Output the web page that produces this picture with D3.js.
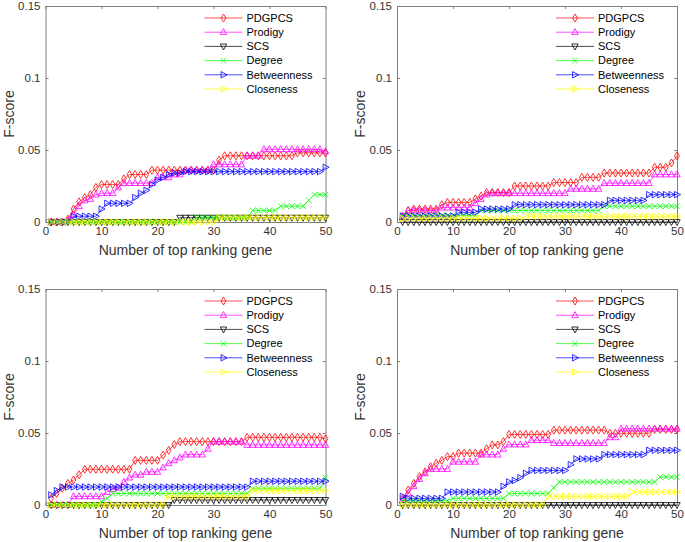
<!DOCTYPE html>
<html>
<head>
<meta charset="utf-8">
<script src="https://cdn.jsdelivr.net/npm/d3@7"></script>
<style>
  html, body { margin: 0; padding: 0; background: #fff; }
  svg { display: block; font-family: "Liberation Sans", Arial, Helvetica, sans-serif; }
</style>
</head>
<body>
<svg id="chart" width="685" height="542"></svg>
<script>
// ---------- data ----------
const xValues = d3.range(1, 51);
const seriesNames = ["PDGPCS", "Prodigy", "SCS", "Degree", "Betweenness", "Closeness"];
const xTickValues = [0, 10, 20, 30, 40, 50];
const yTickValues = [0, 0.05, 0.1, 0.15];
const yTickLabels = ["0", "0.05", "0.1", "0.15"];
const xTitle = "Number of top ranking gene";
const yTitle = "F-score";

// Panel A (top-left)
const pdgpcsA = [0,0,0,0.002,0.009,0.014,0.017,0.019,0.024,0.026,0.026,0.026,0.026,0.030,0.033,0.033,0.033,0.033,0.036,0.036,0.036,0.036,0.036,0.036,0.036,0.036,0.036,0.036,0.036,0.036,0.043,0.046,0.046,0.046,0.046,0.046,0.046,0.046,0.046,0.046,0.046,0.046,0.046,0.046,0.048,0.048,0.048,0.048,0.048,0.048];
const prodigyA = [0,0,0,0.001,0.005,0.011,0.015,0.016,0.019,0.020,0.020,0.020,0.024,0.027,0.027,0.027,0.027,0.027,0.027,0.031,0.031,0.031,0.033,0.033,0.036,0.036,0.036,0.036,0.036,0.040,0.040,0.040,0.040,0.040,0.040,0.046,0.046,0.046,0.0505,0.0505,0.0505,0.0505,0.0505,0.0505,0.0505,0.0505,0.0505,0.0505,0.0505,0.049];
const scsA = [0,0,0,0,0,0,0,0,0,0,0,0,0,0,0,0,0,0,0,0,0,0,0,0.003,0.003,0.003,0.003,0.003,0.003,0.003,0.003,0.003,0.003,0.003,0.003,0.003,0.003,0.003,0.003,0.003,0.003,0.003,0.003,0.003,0.003,0.003,0.003,0.003,0.003,0.003];
const degreeA = [0,0,0,0,0,0,0,0,0,0,0,0,0,0,0,0,0,0,0,0,0,0,0,0,0,0,0.003,0.003,0.003,0.003,0.003,0.003,0.003,0.003,0.003,0.003,0.008,0.008,0.008,0.008,0.008,0.011,0.011,0.011,0.011,0.011,0.015,0.019,0.019,0.019];
const betweenA = [0,0,0,0,0.004,0.004,0.004,0.004,0.004,0.009,0.013,0.013,0.013,0.013,0.013,0.017,0.020,0.022,0.026,0.029,0.031,0.033,0.034,0.034,0.035,0.035,0.035,0.035,0.035,0.035,0.035,0.035,0.035,0.035,0.035,0.035,0.035,0.035,0.035,0.035,0.035,0.035,0.035,0.035,0.035,0.035,0.035,0.035,0.035,0.038];
const closeA = [0,0,0,0,0,0,0,0,0,0,0,0,0,0,0,0,0,0,0,0,0,0,0,0,0,0,0,0,0,0,0.003,0.003,0.003,0.003,0.003,0.003,0.003,0.003,0.003,0.003,0.003,0.003,0.003,0.003,0.003,0.003,0.003,0.003,0.003,0.003];

// Panel B (top-right)
const pdgpcsB = [0.004,0.008,0.009,0.009,0.009,0.009,0.009,0.012,0.0136,0.0136,0.0136,0.0136,0.0136,0.016,0.018,0.0205,0.0205,0.0205,0.0205,0.0205,0.025,0.025,0.025,0.025,0.025,0.025,0.025,0.0274,0.0274,0.0274,0.0274,0.0274,0.031,0.031,0.031,0.031,0.034,0.034,0.034,0.034,0.034,0.034,0.034,0.034,0.034,0.038,0.038,0.038,0.041,0.046];
const prodigyB = [0.004,0.008,0.008,0.008,0.008,0.008,0.008,0.010,0.010,0.010,0.010,0.010,0.010,0.013,0.016,0.019,0.020,0.020,0.020,0.020,0.020,0.020,0.020,0.020,0.020,0.020,0.020,0.020,0.020,0.020,0.023,0.023,0.023,0.023,0.023,0.023,0.027,0.027,0.027,0.027,0.027,0.027,0.027,0.027,0.027,0.033,0.033,0.033,0.033,0.033];
const scsB = [0,0,0,0,0,0,0,0,0,0,0,0,0,0,0,0,0,0,0,0,0,0,0,0,0,0,0,0,0,0,0,0,0,0,0,0,0,0,0,0,0,0,0,0,0,0,0,0,0,0];
const degreeB = [0.0045,0.0045,0.0045,0.0045,0.0045,0.0045,0.0045,0.0045,0.0045,0.0045,0.0045,0.0045,0.0045,0.0045,0.008,0.008,0.008,0.008,0.008,0.008,0.008,0.008,0.008,0.008,0.008,0.008,0.008,0.008,0.008,0.008,0.008,0.008,0.008,0.008,0.008,0.008,0.011,0.011,0.011,0.011,0.011,0.011,0.011,0.011,0.011,0.011,0.011,0.011,0.011,0.011];
const betweenB = [0.004,0.004,0.004,0.004,0.004,0.004,0.004,0.004,0.004,0.004,0.0067,0.0067,0.0067,0.0067,0.009,0.009,0.009,0.009,0.009,0.009,0.012,0.012,0.012,0.012,0.012,0.012,0.012,0.012,0.012,0.012,0.012,0.012,0.012,0.012,0.012,0.012,0.012,0.015,0.015,0.015,0.015,0.015,0.015,0.015,0.019,0.019,0.019,0.019,0.019,0.019];
const closeB = [0.0025,0.0025,0.0025,0.0025,0.0025,0.0025,0.0025,0.0025,0.0025,0.0025,0.0025,0.0025,0.0025,0.0025,0.0025,0.0025,0.0025,0.0025,0.0025,0.0025,0.0025,0.0025,0.004,0.004,0.004,0.004,0.004,0.004,0.004,0.004,0.004,0.004,0.004,0.004,0.004,0.004,0.004,0.004,0.004,0.004,0.004,0.004,0.004,0.004,0.004,0.004,0.004,0.004,0.004,0.004];

// Panel C (bottom-left)
const pdgpcsC = [0.0046,0.008,0.0116,0.015,0.0174,0.021,0.0248,0.0248,0.0248,0.0248,0.0248,0.0248,0.0248,0.0248,0.0248,0.031,0.031,0.031,0.031,0.031,0.0347,0.038,0.042,0.044,0.044,0.044,0.044,0.044,0.044,0.044,0.044,0.044,0.044,0.044,0.044,0.047,0.047,0.047,0.047,0.047,0.047,0.047,0.047,0.047,0.047,0.047,0.047,0.047,0.047,0.046];
const prodigyC = [0,0,0,0,0.006,0.006,0.006,0.006,0.006,0.006,0.009,0.011,0.012,0.016,0.019,0.021,0.021,0.023,0.023,0.023,0.026,0.029,0.031,0.033,0.035,0.035,0.035,0.035,0.039,0.044,0.044,0.044,0.044,0.044,0.044,0.0417,0.0417,0.0417,0.0417,0.0417,0.0417,0.0417,0.0417,0.0417,0.0417,0.0417,0.0417,0.0417,0.0417,0.0417];
const scsC = [0,0,0,0,0,0,0,0,0,0,0,0,0,0,0,0,0,0,0,0,0,0,0.0035,0.0035,0.0035,0.0035,0.0035,0.0035,0.0035,0.0035,0.0035,0.0035,0.0035,0.0035,0.0035,0.0035,0.0035,0.0035,0.0035,0.0035,0.0035,0.0035,0.0035,0.0035,0.0035,0.0035,0.0035,0.0035,0.0035,0.0035];
const degreeC = [0,0,0,0,0,0,0,0,0,0.0023,0.0046,0.008,0.008,0.008,0.008,0.008,0.008,0.008,0.008,0.008,0.008,0.008,0.008,0.008,0.008,0.008,0.008,0.008,0.008,0.008,0.008,0.008,0.008,0.008,0.008,0.008,0.0115,0.0115,0.0115,0.0115,0.0115,0.0115,0.0115,0.0115,0.0115,0.0115,0.0115,0.0115,0.0115,0.019];
const betweenC = [0.007,0.010,0.0125,0.0125,0.0125,0.0125,0.0125,0.0125,0.0125,0.0125,0.0125,0.0125,0.0125,0.0125,0.0125,0.0125,0.0125,0.0125,0.0125,0.0125,0.0125,0.0125,0.0125,0.0125,0.0125,0.0125,0.0125,0.0125,0.0125,0.0125,0.0125,0.0125,0.0125,0.0125,0.0125,0.0125,0.0165,0.0165,0.0165,0.0165,0.0165,0.0165,0.0165,0.0165,0.0165,0.0165,0.0165,0.0165,0.0165,0.0165];
const closeC = [0,0,0,0,0,0,0,0,0,0,0,0,0,0,0,0,0,0,0,0,0,0.006,0.006,0.006,0.006,0.006,0.006,0.006,0.006,0.006,0.006,0.006,0.006,0.006,0.006,0.006,0.010,0.010,0.010,0.010,0.010,0.010,0.010,0.010,0.010,0.010,0.010,0.010,0.010,0.010];

// Panel D (bottom-right)
const pdgpcsD = [0.0046,0.0104,0.015,0.0197,0.023,0.0266,0.029,0.031,0.0336,0.0336,0.036,0.036,0.036,0.036,0.036,0.039,0.0417,0.0417,0.044,0.049,0.049,0.049,0.049,0.049,0.049,0.049,0.049,0.052,0.052,0.052,0.052,0.052,0.052,0.052,0.052,0.052,0.052,0.0498,0.0498,0.0498,0.0498,0.0498,0.0498,0.0498,0.0498,0.0525,0.0525,0.0525,0.0525,0.0525];
const prodigyD = [0.0035,0.008,0.013,0.018,0.022,0.025,0.025,0.025,0.025,0.030,0.030,0.030,0.030,0.030,0.035,0.035,0.035,0.035,0.039,0.042,0.042,0.042,0.042,0.045,0.045,0.045,0.045,0.043,0.043,0.043,0.043,0.043,0.043,0.043,0.043,0.043,0.043,0.047,0.047,0.053,0.053,0.053,0.053,0.053,0.053,0.053,0.053,0.053,0.053,0.053];
const scsD = [0,0,0,0,0,0,0,0,0,0,0,0,0,0,0,0,0,0,0,0,0,0,0,0,0,0,0,0,0,0,0,0,0,0,0,0,0,0,0,0,0,0,0,0,0,0,0,0,0,0];
const degreeD = [0.003,0.003,0.003,0.003,0.003,0.003,0.003,0.003,0.003,0.0046,0.0046,0.0046,0.0046,0.0046,0.0046,0.0046,0.0046,0.0046,0.0046,0.008,0.008,0.008,0.008,0.008,0.008,0.008,0.008,0.012,0.016,0.016,0.016,0.016,0.016,0.016,0.016,0.016,0.016,0.016,0.016,0.016,0.016,0.016,0.016,0.016,0.016,0.016,0.0195,0.0195,0.0195,0.0195];
const betweenD = [0.006,0.0046,0.0046,0.0046,0.0046,0.0046,0.0046,0.0046,0.009,0.009,0.009,0.009,0.009,0.009,0.009,0.009,0.009,0.009,0.013,0.016,0.017,0.019,0.022,0.024,0.024,0.024,0.024,0.024,0.024,0.024,0.028,0.032,0.032,0.032,0.032,0.032,0.035,0.035,0.035,0.035,0.035,0.035,0.035,0.035,0.038,0.038,0.038,0.038,0.038,0.038];
const closeD = [0,0,0,0,0,0,0,0,0,0,0,0,0,0,0,0,0,0,0,0,0,0,0,0,0,0,0.006,0.006,0.006,0.006,0.006,0.006,0.006,0.006,0.006,0.006,0.006,0.006,0.006,0.006,0.006,0.009,0.009,0.009,0.009,0.009,0.009,0.009,0.009,0.009];

// ---------- styles ----------
const colors = ["#ff0000", "#ff00ff", "#000000", "#00ff00", "#0000ff", "#ffff00"];
const markers = [
  "M0,-4L2.4,0L0,4L-2.4,0Z",            // diamond
  "M0,-3.6L3.2,2.4L-3.2,2.4Z",          // triangle up
  "M0,3.6L3.2,-2.4L-3.2,-2.4Z",         // triangle down
  "M-2.8,-2.8L2.8,2.8M-2.8,2.8L2.8,-2.8", // x
  "M3.6,0L-2.4,-3.2L-2.4,3.2Z",         // triangle right
  "M3.6,0L-2.4,-3.2L-2.4,3.2Z"          // triangle right
];

const panels = [
  { left: 45.5, top: 6,   h: 216, data: [pdgpcsA, prodigyA, scsA, degreeA, betweenA, closeA] },
  { left: 397,  top: 6,   h: 216, data: [pdgpcsB, prodigyB, scsB, degreeB, betweenB, closeB] },
  { left: 45.5, top: 289, h: 216, data: [pdgpcsC, prodigyC, scsC, degreeC, betweenC, closeC] },
  { left: 397,  top: 289, h: 216, data: [pdgpcsD, prodigyD, scsD, degreeD, betweenD, closeD] }
];
const W = 280;
const axisColor = "#808080";
const textColor = "#333333";

const svg = d3.select("#chart");

panels.forEach(p => {
  const g = svg.append("g").attr("transform", `translate(${p.left},${p.top})`);
  const x = d3.scaleLinear().domain([0, 50]).range([0, W]);
  const y = d3.scaleLinear().domain([0, 0.15]).range([p.h, 0]);

  // axes
  const styleAxis = sel => {
    sel.select(".domain").attr("stroke", axisColor).attr("stroke-width", 1);
    sel.selectAll(".tick line").attr("stroke", axisColor).attr("stroke-width", 1);
    sel.selectAll(".tick text").attr("fill", textColor).style("font-size", "11.5px")
      .style("font-family", '"Liberation Sans", Arial, sans-serif');
  };
  g.append("g").attr("transform", `translate(0,${p.h})`)
    .call(d3.axisBottom(x).tickValues(xTickValues).tickSizeInner(-3).tickSizeOuter(0).tickPadding(5))
    .call(styleAxis);
  g.append("g")
    .call(d3.axisTop(x).tickValues(xTickValues).tickSizeInner(-3).tickSizeOuter(0).tickFormat(""))
    .call(styleAxis);
  g.append("g")
    .call(d3.axisLeft(y).tickValues(yTickValues).tickSizeInner(-3).tickSizeOuter(0).tickPadding(5)
      .tickFormat((d, i) => yTickLabels[i]))
    .call(styleAxis);
  g.append("g").attr("transform", `translate(${W},0)`)
    .call(d3.axisRight(y).tickValues(yTickValues).tickSizeInner(-3).tickSizeOuter(0).tickFormat(""))
    .call(styleAxis);

  // titles
  g.append("text").attr("x", W / 2).attr("y", p.h + 33)
    .attr("text-anchor", "middle").attr("fill", textColor).style("font-size", "14px").text(xTitle);
  g.append("text").attr("transform", `translate(-32,${p.h / 2}) rotate(-90)`)
    .attr("text-anchor", "middle").attr("fill", textColor).style("font-size", "14px").text(yTitle);

  // series
  const line = d3.line().x((d, i) => x(xValues[i])).y(d => y(d));
  p.data.forEach((vals, s) => {
    const sg = g.append("g");
    sg.append("path").datum(vals).attr("d", line)
      .attr("fill", "none").attr("stroke", colors[s]).attr("stroke-width", 0.7);
    sg.selectAll("path.mk").data(vals).join("path").attr("class", "mk")
      .attr("d", markers[s])
      .attr("transform", (d, i) => `translate(${x(xValues[i])},${y(d)})`)
      .attr("fill", "none").attr("stroke", colors[s]).attr("stroke-width", 0.8);
  });

  // legend
  const lg = g.append("g").attr("transform", `translate(${W - 121},12)`);
  seriesNames.forEach((name, s) => {
    const row = lg.append("g").attr("transform", `translate(0,${s * 14.2})`);
    row.append("line").attr("x1", 0).attr("x2", 38).attr("y1", 0).attr("y2", 0)
      .attr("stroke", colors[s]).attr("stroke-width", 0.7);
    row.append("path").attr("d", markers[s]).attr("transform", "translate(19,0)")
      .attr("fill", "none").attr("stroke", colors[s]).attr("stroke-width", 0.8);
    row.append("text").attr("x", 42).attr("y", 0).attr("dy", "0.35em")
      .attr("fill", "#000").style("font-size", "11px").text(name);
  });
});
</script>
</body>
</html>
